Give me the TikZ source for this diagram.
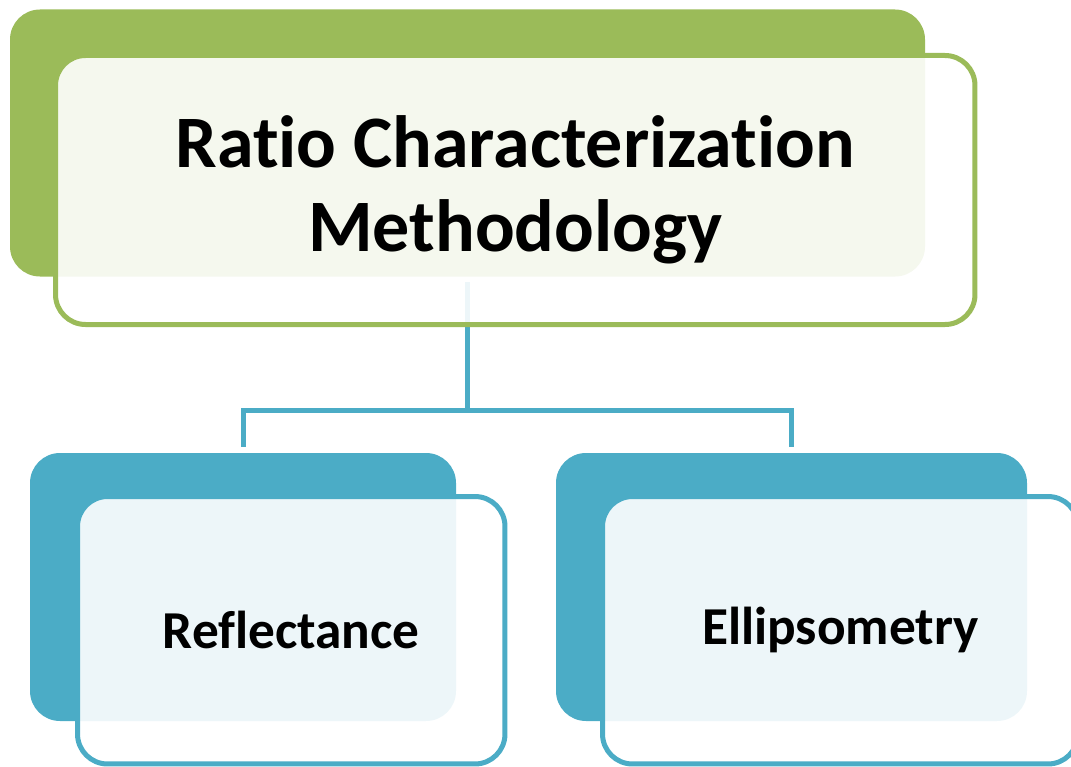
\documentclass[tikz,border=0pt]{standalone}
\usepackage{fontspec}
\setmainfont{Carlito}[Ligatures=NoCommon]
\usepackage{tikz}
\usetikzlibrary{
  positioning, % for placing the frames against the filled boxes
}
\definecolor{leafgreen}{HTML}{9BBB59}
\definecolor{seablue}{HTML}{4BACC6}
\tikzset{
  block/.style={ % style for the filled back boxes
    rectangle,rounded corners=22.5pt, % rounded like the frames
    inner sep=0pt, % no padding, the size is fixed below
  },
  frame/.style={ % style for the outlined front boxes
    rectangle,rounded corners=22.5pt,
    line width=3.75pt, % thick outline
    fill=white,fill opacity=0.9, % lets the back box shine through a little
    text opacity=1, % but keep the words solid black
    inner sep=0pt,align=center,
  },
  link/.style={ % style for the tree lines
    draw=seablue,line width=3.75pt,
  },
  title/.style={font=\fontsize{55.5}{63}\selectfont\bfseries},
  leaf/.style={font=\fontsize{40}{48}\selectfont\bfseries},
}
\begin{document}
\begin{tikzpicture}[x=0.75pt,y=-0.75pt]
  \useasboundingbox (0,0) rectangle (1071,767);
  % back boxes
  \node[block, fill=leafgreen, minimum width=686.25pt, minimum height=200.25pt] (top) at (467.5,143) {};
  \node[block, fill=seablue, minimum width=319.5pt, minimum height=201pt] (left) at (243,587) {};
  \node[block, fill=seablue, minimum width=353.25pt, minimum height=201pt] (right) at (791.5,587) {};
  % tree lines
  \coordinate (hub) at (467.5,410);
  \draw[link] ([yshift=-3.75pt]top.south) -- (hub);
  \draw[link] (hub) -| ([yshift=4.5pt]left.north);
  \draw[link] (hub) -| ([yshift=4.5pt]right.north);
  % front boxes
  \node[frame, draw=leafgreen, minimum width=689.6pt, minimum height=201.75pt, title] (topf) at (515.25,190) {Ratio Characterization\\Methodology};
  \node[frame, draw=seablue, minimum width=320.6pt, minimum height=200.6pt, leaf] (leftf) at (291.25,630.25) {Reflectance};
  \node[frame, draw=seablue, minimum width=356.6pt, minimum height=200.6pt, leaf] (rightf) at (840.25,630.25) {Ellipsometry};
\end{tikzpicture}
\end{document}
